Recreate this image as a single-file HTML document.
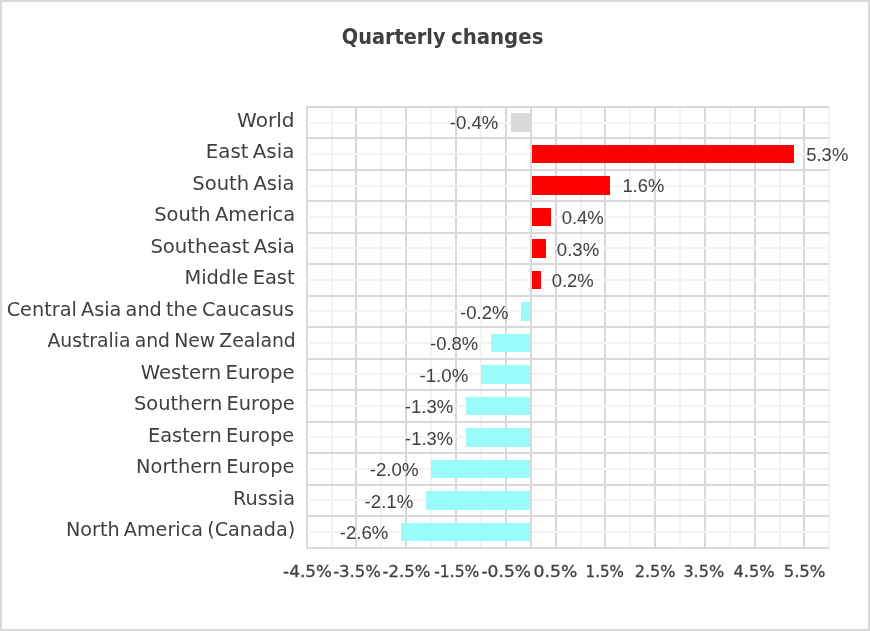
<!DOCTYPE html>
<html lang="en"><head><meta charset="utf-8"><title>Quarterly changes</title>
<style>
html,body{margin:0;padding:0;background:#fff}
body{width:870px;height:631px;overflow:hidden}
svg{display:block}
text{font-family:"Liberation Sans",sans-serif;fill:#404040}
.t{font-family:"DejaVu Sans Condensed","DejaVu Sans","Liberation Sans",sans-serif;font-weight:bold;font-size:21.4px}
.c{font-family:"DejaVu Sans","Liberation Sans",sans-serif;font-size:20.3px;word-spacing:-2px}
.n{font-size:18.2px}
.x{font-family:"DejaVu Sans","Liberation Sans",sans-serif;font-size:16.7px;stroke:#404040;stroke-width:.3px}
</style>
</head><body>
<svg width="870" height="631" viewBox="0 0 870 631">
<rect x="0" y="0" width="870" height="631" fill="#ffffff"/>
<rect x="1" y="1" width="868" height="629" fill="none" stroke="#d9d9d9" stroke-width="2"/>
<g fill="#d9d9d9" shape-rendering="crispEdges"><rect x="306" y="106" width="2" height="443"/><rect x="355" y="106" width="2" height="443"/><rect x="405" y="106" width="2" height="443"/><rect x="455" y="106" width="2" height="443"/><rect x="505" y="106" width="2" height="443"/><rect x="555" y="106" width="2" height="443"/><rect x="604" y="106" width="2" height="443"/><rect x="654" y="106" width="2" height="443"/><rect x="704" y="106" width="2" height="443"/><rect x="754" y="106" width="2" height="443"/><rect x="803" y="106" width="2" height="443"/></g>
<g fill="#f2f2f2" shape-rendering="crispEdges"><rect x="331" y="107" width="2" height="442"/><rect x="380" y="107" width="2" height="442"/><rect x="430" y="107" width="2" height="442"/><rect x="480" y="107" width="2" height="442"/><rect x="530" y="107" width="2" height="442"/><rect x="580" y="107" width="2" height="442"/><rect x="629" y="107" width="2" height="442"/><rect x="679" y="107" width="2" height="442"/><rect x="729" y="107" width="2" height="442"/><rect x="779" y="107" width="2" height="442"/><rect x="828" y="107" width="2" height="442"/></g>
<g fill="#f2f2f2" shape-rendering="crispEdges"><rect x="307" y="122" width="522" height="2"/><rect x="307" y="153" width="522" height="2"/><rect x="307" y="185" width="522" height="2"/><rect x="307" y="216" width="522" height="2"/><rect x="307" y="247" width="522" height="2"/><rect x="307" y="279" width="522" height="2"/><rect x="307" y="310" width="522" height="2"/><rect x="307" y="342" width="522" height="2"/><rect x="307" y="373" width="522" height="2"/><rect x="307" y="405" width="522" height="2"/><rect x="307" y="436" width="522" height="2"/><rect x="307" y="468" width="522" height="2"/><rect x="307" y="499" width="522" height="2"/><rect x="307" y="531" width="522" height="2"/></g>
<g fill="#d9d9d9" shape-rendering="crispEdges"><rect x="306" y="106" width="523" height="2"/><rect x="306" y="137" width="523" height="2"/><rect x="306" y="169" width="523" height="2"/><rect x="306" y="200" width="523" height="2"/><rect x="306" y="232" width="523" height="2"/><rect x="306" y="263" width="523" height="2"/><rect x="306" y="295" width="523" height="2"/><rect x="306" y="326" width="523" height="2"/><rect x="306" y="358" width="523" height="2"/><rect x="306" y="389" width="523" height="2"/><rect x="306" y="421" width="523" height="2"/><rect x="306" y="452" width="523" height="2"/><rect x="306" y="484" width="523" height="2"/><rect x="306" y="515" width="523" height="2"/><rect x="306" y="547" width="523" height="2"/></g>
<g shape-rendering="crispEdges"><rect x="511" y="113" width="20" height="19" fill="#d9d9d9"/><rect x="531" y="145" width="263" height="18" fill="#ff0000"/><rect x="531" y="176" width="79" height="19" fill="#ff0000"/><rect x="531" y="208" width="20" height="18" fill="#ff0000"/><rect x="531" y="239" width="15" height="19" fill="#ff0000"/><rect x="531" y="271" width="10" height="18" fill="#ff0000"/><rect x="521" y="302" width="10" height="19" fill="#99fcf8"/><rect x="491" y="334" width="40" height="18" fill="#99fcf8"/><rect x="481" y="365" width="50" height="19" fill="#99fcf8"/><rect x="466" y="397" width="65" height="18" fill="#99fcf8"/><rect x="466" y="428" width="65" height="19" fill="#99fcf8"/><rect x="431" y="460" width="100" height="18" fill="#99fcf8"/><rect x="426" y="491" width="105" height="19" fill="#99fcf8"/><rect x="401" y="523" width="130" height="18" fill="#99fcf8"/></g>
<rect x="530" y="106" width="2" height="443" fill="#d9d9d9" shape-rendering="crispEdges"/>
<text class="t" y="43.80"><tspan x="341.78" textLength="103.83" lengthAdjust="spacingAndGlyphs">Quarterly</tspan> <tspan x="450.99" textLength="92.42" lengthAdjust="spacingAndGlyphs">changes</tspan></text>
<text class="c" x="237.11" y="127.00" textLength="57.43" lengthAdjust="spacingAndGlyphs">World</text>
<text class="c" x="205.75" y="158.46" textLength="88.51" lengthAdjust="spacingAndGlyphs">East Asia</text>
<text class="c" x="192.37" y="189.92" textLength="102.08" lengthAdjust="spacingAndGlyphs">South Asia</text>
<text class="c" x="154.17" y="221.38" textLength="141.06" lengthAdjust="spacingAndGlyphs">South America</text>
<text class="c" x="150.38" y="252.84" textLength="144.45" lengthAdjust="spacingAndGlyphs">Southeast Asia</text>
<text class="c" x="184.42" y="284.30" textLength="110.17" lengthAdjust="spacingAndGlyphs">Middle East</text>
<text class="c" x="6.66" y="315.76" textLength="287.37" lengthAdjust="spacingAndGlyphs">Central Asia and the Caucasus</text>
<text class="c" x="47.40" y="347.22" textLength="248.41" lengthAdjust="spacingAndGlyphs">Australia and New Zealand</text>
<text class="c" x="140.64" y="378.68" textLength="153.94" lengthAdjust="spacingAndGlyphs">Western Europe</text>
<text class="c" x="133.99" y="410.14" textLength="160.82" lengthAdjust="spacingAndGlyphs">Southern Europe</text>
<text class="c" x="147.94" y="441.60" textLength="146.33" lengthAdjust="spacingAndGlyphs">Eastern Europe</text>
<text class="c" x="136.07" y="473.06" textLength="158.33" lengthAdjust="spacingAndGlyphs">Northern Europe</text>
<text class="c" x="233.07" y="504.52" textLength="61.91" lengthAdjust="spacingAndGlyphs">Russia</text>
<text class="c" x="65.92" y="535.98" textLength="229.28" lengthAdjust="spacingAndGlyphs">North America (Canada)</text>
<text class="n" x="449.80" y="129.40" textLength="48.61" lengthAdjust="spacingAndGlyphs">-0.4%</text>
<text class="n" x="806.23" y="160.93" textLength="42.09" lengthAdjust="spacingAndGlyphs">5.3%</text>
<text class="n" x="622.40" y="192.46" textLength="41.82" lengthAdjust="spacingAndGlyphs">1.6%</text>
<text class="n" x="561.70" y="223.99" textLength="42.10" lengthAdjust="spacingAndGlyphs">0.4%</text>
<text class="n" x="556.77" y="255.52" textLength="42.49" lengthAdjust="spacingAndGlyphs">0.3%</text>
<text class="n" x="551.70" y="287.05" textLength="42.10" lengthAdjust="spacingAndGlyphs">0.2%</text>
<text class="n" x="460.00" y="318.58" textLength="48.44" lengthAdjust="spacingAndGlyphs">-0.2%</text>
<text class="n" x="429.99" y="350.11" textLength="48.21" lengthAdjust="spacingAndGlyphs">-0.8%</text>
<text class="n" x="419.51" y="381.64" textLength="48.75" lengthAdjust="spacingAndGlyphs">-1.0%</text>
<text class="n" x="404.71" y="413.17" textLength="48.60" lengthAdjust="spacingAndGlyphs">-1.3%</text>
<text class="n" x="405.12" y="444.70" textLength="47.94" lengthAdjust="spacingAndGlyphs">-1.3%</text>
<text class="n" x="369.78" y="476.23" textLength="48.75" lengthAdjust="spacingAndGlyphs">-2.0%</text>
<text class="n" x="364.62" y="507.76" textLength="48.66" lengthAdjust="spacingAndGlyphs">-2.1%</text>
<text class="n" x="339.71" y="539.29" textLength="48.60" lengthAdjust="spacingAndGlyphs">-2.6%</text>
<text class="x" x="283.14" y="576.70" textLength="48.75" lengthAdjust="spacingAndGlyphs">-4.5%</text>
<text class="x" x="333.15" y="576.70" textLength="47.79" lengthAdjust="spacingAndGlyphs">-3.5%</text>
<text class="x" x="382.52" y="576.70" textLength="47.78" lengthAdjust="spacingAndGlyphs">-2.5%</text>
<text class="x" x="434.18" y="576.70" textLength="45.18" lengthAdjust="spacingAndGlyphs">-1.5%</text>
<text class="x" x="481.48" y="576.70" textLength="49.45" lengthAdjust="spacingAndGlyphs">-0.5%</text>
<text class="x" x="533.61" y="576.70" textLength="43.75" lengthAdjust="spacingAndGlyphs">0.5%</text>
<text class="x" x="585.59" y="576.70" textLength="38.41" lengthAdjust="spacingAndGlyphs">1.5%</text>
<text class="x" x="634.75" y="576.70" textLength="40.71" lengthAdjust="spacingAndGlyphs">2.5%</text>
<text class="x" x="683.41" y="576.70" textLength="40.80" lengthAdjust="spacingAndGlyphs">3.5%</text>
<text class="x" x="733.52" y="576.70" textLength="41.13" lengthAdjust="spacingAndGlyphs">4.5%</text>
<text class="x" x="783.66" y="576.70" textLength="41.83" lengthAdjust="spacingAndGlyphs">5.5%</text>
</svg></body></html>
